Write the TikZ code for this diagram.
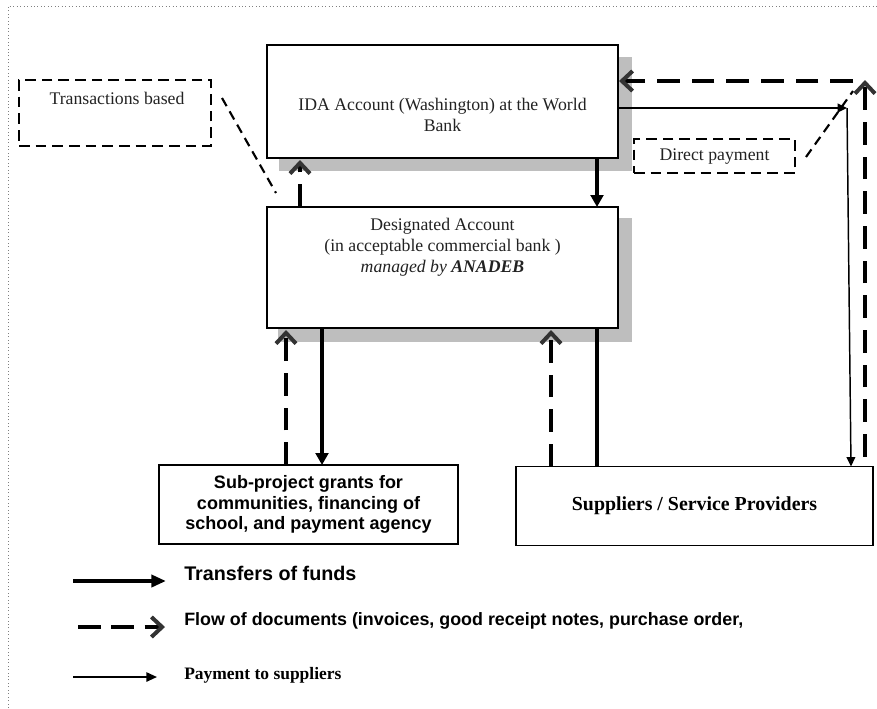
\documentclass[tikz,border=0pt]{standalone}
\usepackage{fontspec}
\setmainfont{Liberation Serif}
\newfontfamily\arialb{Liberation Sans}
\usetikzlibrary{arrows.meta,calc,backgrounds}
\definecolor{shadowgray}{HTML}{BEBEBE}
\definecolor{tipgray}{HTML}{333333}
\definecolor{txt}{HTML}{222222}
\tikzset{
  box/.style={draw=black,line width=1.1pt,fill=white,rectangle,inner sep=0pt,outer sep=0pt},
  notebox/.style={draw=black,line width=1.7pt,dash pattern=on 8pt off 4.5pt,rectangle,inner sep=0pt,outer sep=0pt},
  noteline/.style={draw=black,line width=1.6pt,dash pattern=on 7pt off 4.5pt},
  fundflow/.style={draw=black,line width=2.4pt,-{Triangle[length=9pt,width=9.5pt]}},
  fundline/.style={draw=black,line width=2.4pt},
  docflow/.style={draw=black,line width=3.5pt,dash pattern=on 17pt off 9pt,
     -{Straight Barb[length=8pt,width=15pt,line width=3pt,color=tipgray]}},
  payflow/.style={draw=black,line width=1.1pt,-{Triangle[length=7pt,width=6.5pt]}},
  serif/.style={font=\fontsize{13.3}{15.75}\selectfont,text=txt,align=center,inner sep=0pt},
}
\begin{document}
\begin{tikzpicture}[x=0.75pt,y=-0.75pt]
\useasboundingbox (0,0) rectangle (877,708);
% dotted frame
\draw[gray,line width=0.6pt,dotted] (8,708) -- (8,6) -- (877,6);

% boxes
\node[box,minimum width=263.25pt,minimum height=84.75pt] (ida) at (442.5,101.5) {};
\node[box,minimum width=263.25pt,minimum height=90.75pt] (desig) at (442.5,267.5) {};
\node[box,minimum width=224.25pt,minimum height=59.25pt,align=center,
      font=\arialb\bfseries\fontsize{13.5}{15.6}\selectfont] (sub) at (308.5,504.5)
  {Sub-project grants for\\communities, financing of\\school, and payment agency};
\node[box,minimum width=267.75pt,minimum height=59.25pt,
      font=\bfseries\fontsize{14.9}{17}\selectfont] (supp) at (694.5,506)
  {Suppliers / Service Providers};
\node[notebox,minimum width=144pt,minimum height=49.5pt] (tb) at (115,113) {};
\node[notebox,minimum width=120.75pt,minimum height=25.5pt] (dp) at (714.5,156) {};

% shadows
\begin{scope}[on background layer]
\fill[shadowgray] ($(ida.north west)+(12,12)$) rectangle ($(ida.south east)+(14,13)$);
\fill[shadowgray] ($(desig.north west)+(11,11)$) rectangle ($(desig.south east)+(14,14)$);
\end{scope}

% texts
\node[serif] (idat) at (442.5,115) {IDA Account (Washington) at the World\\Bank};
\node[serif] (desigt) at (442.5,247) {Designated Account\\(in acceptable commercial bank )\\\textit{managed by \textbf{ANADEB}}};
\node[serif] (tbt) at (117,98) {Transactions based};
\node[serif] (dpt) at (714.5,157) {Direct payment};

% connectors between accounts
\draw[docflow] ($(desig.north west)+(33,0)$) -- ($(ida.south west)+(33,2)$);
\draw[fundflow] ($(ida.south east)+(-21,0)$) -- ($(desig.north east)+(-21,0)$);
\draw[docflow] ($(sub.north west)+(127,0)$) -- ($(desig.south west)+(19,2)$);
\draw[fundflow] ($(desig.south west)+(55,0)$) -- ($(sub.north west)+(163,0)$);
\draw[docflow] ($(supp.north west)+(35,0)$) -- ($(desig.south west)+(284,2)$);
\draw[fundline] ($(supp.north west)+(81,0)$) -- ($(desig.south east)+(-21,0)$);

% direct payment path
\coordinate (corner) at (847,108);
\draw[payflow] ($(ida.north east)+(0,63)$) -- (corner);
\draw[payflow] (corner) -- ($(supp.north east)+(-22,0)$);
\coordinate (dtop) at (865,80);
\draw[docflow] ($(supp.north east)+(-8,-10)$) -- (dtop);
\coordinate (hstart) at (853,81);
\draw[docflow] (hstart) -- ($(ida.north east)+(1,36)$);

% note connectors
\coordinate (dpend) at (853,91);
\draw[noteline] ($(dp.east)+(11,1)$) -- (dpend);
\coordinate (tbend) at (276,193);
\draw[noteline] ($(tb.north east)+(11,18)$) -- (tbend);

% legend
\coordinate (l1a) at (73,581); \coordinate (l1b) at (166,581);
\draw[draw=black,line width=3pt,-{Triangle[length=11pt,width=9pt]}] (l1a) -- (l1b);
\node[anchor=base west,inner sep=0pt,font=\arialb\bfseries\fontsize{14.8}{17}\selectfont] (lg1) at (184,580) {Transfers of funds};
\coordinate (l2a) at (78,627); \coordinate (l2b) at (165,627);
\draw[docflow,dash pattern=on 17pt off 8pt] (l2a) -- (l2b);
\node[anchor=base west,inner sep=0pt,font=\arialb\bfseries\fontsize{13.4}{15}\selectfont] (lg2) at (184,625) {Flow of documents (invoices, good receipt notes, purchase order,};
\coordinate (l3a) at (73,677); \coordinate (l3b) at (157,677);
\draw[draw=black,line width=1.3pt,-{Triangle[length=8pt,width=7pt]}] (l3a) -- (l3b);
\node[anchor=base west,inner sep=0pt,font=\bfseries\fontsize{13.1}{15}\selectfont] (lg3) at (184,679) {Payment to suppliers};
\end{tikzpicture}
\end{document}
